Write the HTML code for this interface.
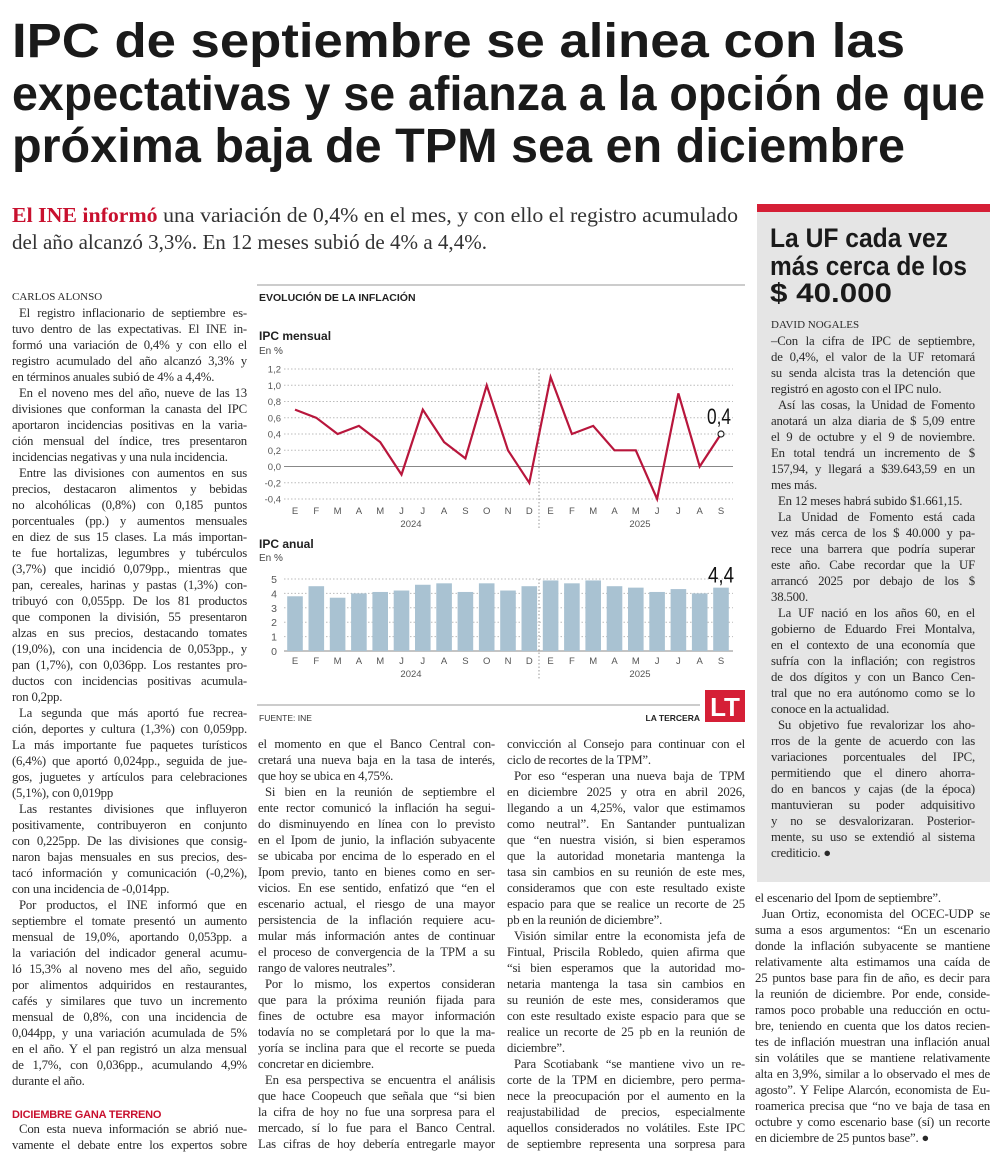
<!DOCTYPE html>
<html><head><meta charset="utf-8">
<style>
*{margin:0;padding:0;box-sizing:border-box}
body{width:1000px;height:1171px;background:#fff;position:relative;overflow:hidden;font-family:"Liberation Serif",serif;color:#2a2a2a}
.col{position:absolute;font-size:12.8px;line-height:16px;letter-spacing:-0.2px;z-index:3}
.col div{white-space:nowrap;text-align:justify;text-align-last:justify;height:16px}
.col div.e{text-align-last:left}
.col div.i{padding-left:7px}
.by{font-size:11px;text-transform:uppercase;letter-spacing:0}
svg{position:absolute;left:0;top:0}
.sans{font-family:"Liberation Sans",sans-serif}
</style></head><body>

<svg width="1000" height="900">
 <g font-family="Liberation Sans, sans-serif" font-weight="bold" font-size="48" fill="#1a1a1a">
  <text x="12" y="57" textLength="893" lengthAdjust="spacingAndGlyphs">IPC de septiembre se alinea con las</text>
  <text x="12" y="110" textLength="973" lengthAdjust="spacingAndGlyphs">expectativas y se afianza a la opción de que</text>
  <text x="12" y="162" textLength="893" lengthAdjust="spacingAndGlyphs">próxima baja de TPM sea en diciembre</text>
 </g>
 <g font-family="Liberation Serif, serif" font-size="21" fill="#333">
  <text x="12" y="222" textLength="726" lengthAdjust="spacingAndGlyphs"><tspan fill="#c8102e" font-weight="bold">El INE informó</tspan> una variación de 0,4% en el mes, y con ello el registro acumulado</text>
  <text x="12" y="249" textLength="475" lengthAdjust="spacingAndGlyphs">del año alcanzó 3,3%. En 12 meses subió de 4% a 4,4%.</text>
 </g>
 <rect x="757" y="204" width="233" height="8" fill="#d51f36"/>
 <rect x="757" y="212" width="233" height="670" fill="#e5e5e5"/>
 <g font-family="Liberation Sans, sans-serif" font-weight="bold" font-size="27" fill="#1a1a1a">
  <text x="770" y="247" textLength="178" lengthAdjust="spacingAndGlyphs">La UF cada vez</text>
  <text x="770" y="275" textLength="197" lengthAdjust="spacingAndGlyphs">más cerca de los</text>
  <text x="770" y="302" textLength="122" lengthAdjust="spacingAndGlyphs">$ 40.000</text>
 </g>
</svg>

<div class="col" style="left:12px;top:289px;width:235px">
<div class="e by">Carlos Alonso</div>
<div class="i">El registro inflacionario de septiembre es-</div>
<div>tuvo dentro de las expectativas. El INE in-</div>
<div>formó una variación de 0,4% y con ello el</div>
<div>registro acumulado del año alcanzó 3,3% y</div>
<div class="e">en términos anuales subió de 4% a 4,4%.</div>
<div class="i">En el noveno mes del año, nueve de las 13</div>
<div>divisiones que conforman la canasta del IPC</div>
<div>aportaron incidencias positivas en la varia-</div>
<div>ción mensual del índice, tres presentaron</div>
<div class="e">incidencias negativas y una nula incidencia.</div>
<div class="i">Entre las divisiones con aumentos en sus</div>
<div>precios, destacaron alimentos y bebidas</div>
<div>no alcohólicas (0,8%) con 0,185 puntos</div>
<div>porcentuales (pp.) y aumentos mensuales</div>
<div>en diez de sus 15 clases. La más importan-</div>
<div>te fue hortalizas, legumbres y tubérculos</div>
<div>(3,7%) que incidió 0,079pp., mientras que</div>
<div>pan, cereales, harinas y pastas (1,3%) con-</div>
<div>tribuyó con 0,055pp. De los 81 productos</div>
<div>que componen la división, 55 presentaron</div>
<div>alzas en sus precios, destacando tomates</div>
<div>(19,0%), con una incidencia de 0,053pp., y</div>
<div>pan (1,7%), con 0,036pp. Los restantes pro-</div>
<div>ductos con incidencias positivas acumula-</div>
<div class="e">ron 0,2pp.</div>
<div class="i">La segunda que más aportó fue recrea-</div>
<div>ción, deportes y cultura (1,3%) con 0,059pp.</div>
<div>La más importante fue paquetes turísticos</div>
<div>(6,4%) que aportó 0,024pp., seguida de jue-</div>
<div>gos, juguetes y artículos para celebraciones</div>
<div class="e">(5,1%), con 0,019pp</div>
<div class="i">Las restantes divisiones que influyeron</div>
<div>positivamente, contribuyeron en conjunto</div>
<div>con 0,225pp. De las divisiones que consig-</div>
<div>naron bajas mensuales en sus precios, des-</div>
<div>tacó información y comunicación (-0,2%),</div>
<div class="e">con una incidencia de -0,014pp.</div>
<div class="i">Por productos, el INE informó que en</div>
<div>septiembre el tomate presentó un aumento</div>
<div>mensual de 19,0%, aportando 0,053pp. a</div>
<div>la variación del indicador general acumu-</div>
<div>ló 15,3% al noveno mes del año, seguido</div>
<div>por alimentos adquiridos en restaurantes,</div>
<div>cafés y similares que tuvo un incremento</div>
<div>mensual de 0,8%, con una incidencia de</div>
<div>0,044pp, y una variación acumulada de 5%</div>
<div>en el año. Y el pan registró un alza mensual</div>
<div>de 1,7%, con 0,036pp., acumulando 4,9%</div>
<div class="e">durante el año.</div>
<div class="e"></div>
<div class="e sans" style="color:#c8102e;font-weight:bold;font-size:11px;height:16px;padding-top:2px">DICIEMBRE GANA TERRENO</div>
<div class="i">Con esta nueva información se abrió nue-</div>
<div>vamente el debate entre los expertos sobre</div>
</div>

<div class="col" style="left:258px;top:736px;width:237px">
<div>el momento en que el Banco Central con-</div>
<div>cretará una nueva baja en la tasa de interés,</div>
<div class="e">que hoy se ubica en 4,75%.</div>
<div class="i">Si bien en la reunión de septiembre el</div>
<div>ente rector comunicó la inflación ha segui-</div>
<div>do disminuyendo en línea con lo previsto</div>
<div>en el Ipom de junio, la inflación subyacente</div>
<div>se ubicaba por encima de lo esperado en el</div>
<div>Ipom previo, tanto en bienes como en ser-</div>
<div>vicios. En ese sentido, enfatizó que “en el</div>
<div>escenario actual, el riesgo de una mayor</div>
<div>persistencia de la inflación requiere acu-</div>
<div>mular más información antes de continuar</div>
<div>el proceso de convergencia de la TPM a su</div>
<div class="e">rango de valores neutrales”.</div>
<div class="i">Por lo mismo, los expertos consideran</div>
<div>que para la próxima reunión fijada para</div>
<div>fines de octubre esa mayor información</div>
<div>todavía no se completará por lo que la ma-</div>
<div>yoría se inclina para que el recorte se pueda</div>
<div class="e">concretar en diciembre.</div>
<div class="i">En esa perspectiva se encuentra el análisis</div>
<div>que hace Coopeuch que señala que “si bien</div>
<div>la cifra de hoy no fue una sorpresa para el</div>
<div>mercado, sí lo fue para el Banco Central.</div>
<div>Las cifras de hoy debería entregarle mayor</div>
</div>

<div class="col" style="left:507px;top:736px;width:238px">
<div>convicción al Consejo para continuar con el</div>
<div class="e">ciclo de recortes de la TPM”.</div>
<div class="i">Por eso “esperan una nueva baja de TPM</div>
<div>en diciembre 2025 y otra en abril 2026,</div>
<div>llegando a un 4,25%, valor que estimamos</div>
<div>como neutral”. En Santander puntualizan</div>
<div>que “en nuestra visión, si bien esperamos</div>
<div>que la autoridad monetaria mantenga la</div>
<div>tasa sin cambios en su reunión de este mes,</div>
<div>consideramos que con este resultado existe</div>
<div>espacio para que se realice un recorte de 25</div>
<div class="e">pb en la reunión de diciembre”.</div>
<div class="i">Visión similar entre la economista jefa de</div>
<div>Fintual, Priscila Robledo, quien afirma que</div>
<div>“si bien esperamos que la autoridad mo-</div>
<div>netaria mantenga la tasa sin cambios en</div>
<div>su reunión de este mes, consideramos que</div>
<div>con este resultado existe espacio para que se</div>
<div>realice un recorte de 25 pb en la reunión de</div>
<div class="e">diciembre”.</div>
<div class="i">Para Scotiabank “se mantiene vivo un re-</div>
<div>corte de la TPM en diciembre, pero perma-</div>
<div>nece la preocupación por el aumento en la</div>
<div>reajustabilidad de precios, especialmente</div>
<div>aquellos considerados no volátiles. Este IPC</div>
<div>de septiembre representa una sorpresa para</div>
</div>

<div class="col" style="left:755px;top:890px;width:235px">
<div class="e">el escenario del Ipom de septiembre”.</div>
<div class="i">Juan Ortiz, economista del OCEC-UDP se</div>
<div>suma a esos argumentos: “En un escenario</div>
<div>donde la inflación subyacente se mantiene</div>
<div>relativamente alta estimamos una caída de</div>
<div>25 puntos base para fin de año, es decir para</div>
<div>la reunión de diciembre. Por ende, conside-</div>
<div>ramos poco probable una reducción en octu-</div>
<div>bre, teniendo en cuenta que los datos recien-</div>
<div>tes de inflación muestran una inflación anual</div>
<div>sin volátiles que se mantiene relativamente</div>
<div>alta en 3,9%, similar a lo observado el mes de</div>
<div>agosto”. Y Felipe Alarcón, economista de Eu-</div>
<div>roamerica precisa que “no ve baja de tasa en</div>
<div>octubre y como escenario base (sí) un recorte</div>
<div class="e">en diciembre de 25 puntos base”. ●</div>
</div>

<div class="col" style="left:771px;top:317px;width:204px">
<div class="e by">David Nogales</div>
<div>–Con la cifra de IPC de septiembre,</div>
<div>de 0,4%, el valor de la UF retomará</div>
<div>su senda alcista tras la detención que</div>
<div class="e">registró en agosto con el IPC nulo.</div>
<div class="i">Así las cosas, la Unidad de Fomento</div>
<div>anotará un alza diaria de $ 5,09 entre</div>
<div>el 9 de octubre y el 9 de noviembre.</div>
<div>En total tendrá un incremento de $</div>
<div>157,94, y llegará a $39.643,59 en un</div>
<div class="e">mes más.</div>
<div class="e i">En 12 meses habrá subido $1.661,15.</div>
<div class="i">La Unidad de Fomento está cada</div>
<div>vez más cerca de los $ 40.000 y pa-</div>
<div>rece una barrera que podría superar</div>
<div>este año. Cabe recordar que la UF</div>
<div>arrancó 2025 por debajo de los $</div>
<div class="e">38.500.</div>
<div class="i">La UF nació en los años 60, en el</div>
<div>gobierno de Eduardo Frei Montalva,</div>
<div>en el contexto de una economía que</div>
<div>sufría con la inflación; con registros</div>
<div>de dos dígitos y con un Banco Cen-</div>
<div>tral que no era autónomo como se lo</div>
<div class="e">conoce en la actualidad.</div>
<div class="i">Su objetivo fue revalorizar los aho-</div>
<div>rros de la gente de acuerdo con las</div>
<div>variaciones porcentuales del IPC,</div>
<div>permitiendo que el dinero ahorra-</div>
<div>do en bancos y cajas (de la época)</div>
<div>mantuvieran su poder adquisitivo</div>
<div>y no se desvalorizaran. Posterior-</div>
<div>mente, su uso se extendió al sistema</div>
<div class="e">crediticio. ●</div>
</div>

<svg id="chart" width="1000" height="1171" font-family="Liberation Sans, sans-serif">
 <line x1="257" y1="285" x2="745" y2="285" stroke="#999" stroke-width="1"/>
 <text x="259" y="301" font-size="10.5" font-weight="bold" fill="#222">EVOLUCIÓN DE LA INFLACIÓN</text>
 <text x="259" y="340" font-size="12" font-weight="bold" fill="#222">IPC mensual</text>
 <text x="259" y="354" font-size="10" fill="#444">En %</text>
 <text x="259" y="548" font-size="12" font-weight="bold" fill="#222">IPC anual</text>
 <text x="259" y="561" font-size="10" fill="#444">En %</text>
 <g id="gLine"></g>
 <g id="gBar"></g>
 <line x1="257" y1="705" x2="700" y2="705" stroke="#999"/>
 <text x="259" y="721" font-size="8.5" fill="#333">FUENTE: INE</text>
 <text x="700" y="721" font-size="8.5" font-weight="bold" fill="#222" text-anchor="end">LA TERCERA</text>
 <rect x="705" y="690" width="40" height="32" fill="#d51f36"/>
 <text x="725" y="716" font-size="26" font-weight="bold" fill="#fff" text-anchor="middle">LT</text>
</svg>

<script>
const months = ["E","F","M","A","M","J","J","A","S","O","N","D","E","F","M","A","M","J","J","A","S"];
const monthly = [0.7,0.6,0.4,0.5,0.3,-0.1,0.7,0.3,0.1,1.0,0.2,-0.2,1.1,0.4,0.5,0.2,0.2,-0.4,0.9,0.0,0.4];
const annual = [3.8,4.5,3.7,4.0,4.1,4.2,4.6,4.7,4.1,4.7,4.2,4.5,4.9,4.7,4.9,4.5,4.4,4.1,4.3,4.0,4.4];
const monthlyTicks = [1.2,1.0,0.8,0.6,0.4,0.2,0.0,-0.2,-0.4];
const annualTicks = [5,4,3,2,1,0];
const years = ["2024","2025"];

const NS = "http://www.w3.org/2000/svg";
function mk(parent, tag, attrs, txt){
  const e = document.createElementNS(NS, tag);
  for (const k in attrs) e.setAttribute(k, attrs[k]);
  if (txt !== undefined) e.textContent = txt;
  parent.appendChild(e);
  return e;
}
const X0 = 295, X1 = 721;
const xs = i => X0 + i*(X1-X0)/(months.length-1);
const yL = v => 369 + (1.2 - v)*(130/1.6);
const yB = v => 651 - v*14.4;
const fmt = v => v.toFixed(1).replace(".", ",");

const gL = document.getElementById("gLine");
monthlyTicks.forEach(t => {
  const ln = mk(gL, "line", {x1:284, x2:733, y1:yL(t), y2:yL(t), stroke: t===0 ? "#888" : "#bbb", "stroke-width":1, "stroke-dasharray": t===0 ? "" : "1.5,2"});
  
  
  const tx = mk(gL, "text", {x:281, y:yL(t)+3.5, "font-size":9.5, fill:"#555", "text-anchor":"end"}, fmt(t));
  
  
});
const div1 = mk(gL, "line", {x1:539, x2:539, y1:369, y2:530, stroke:"#999", "stroke-dasharray":"1.5,2"});


months.forEach((m,i) => {
  const tx = mk(gL, "text", {x:xs(i), y:514, "font-size":9.5, fill:"#555", "text-anchor":"middle"}, m);
  
  
});
[[years[0],411],[years[1],640]].forEach(([y,x]) => {
  const tx = mk(gL, "text", {x:x, y:527, "font-size":9.5, fill:"#555", "text-anchor":"middle"}, y);
  
  
});
const pts = monthly.map((v,i) => xs(i).toFixed(1)+","+yL(v).toFixed(1)).join(" ");
const pl = mk(gL, "polyline", {points:pts, fill:"none", stroke:"#b8163c", "stroke-width":2.2, "stroke-linejoin":"miter"});


const li = monthly.length-1;
const dot = mk(gL, "circle", {cx:xs(li), cy:yL(monthly[li]), r:3, fill:"#fff", stroke:"#222", "stroke-width":1.2});


const lab = mk(gL, "text", {x:xs(li)-2, y:yL(monthly[li])-10, "font-size":22, fill:"#111", "text-anchor":"middle", textLength:24, lengthAdjust:"spacingAndGlyphs"}, fmt(monthly[li]));



const gB = document.getElementById("gBar");
annualTicks.forEach(t => {
  const ln = mk(gB, "line", {x1:284, x2:733, y1:yB(t), y2:yB(t), stroke: t===0 ? "#888" : "#bbb", "stroke-dasharray": t===0 ? "" : "1.5,2"});
  
  
  const tx = mk(gB, "text", {x:274, y:yB(t)+4, "font-size":10.5, fill:"#555", "text-anchor":"middle"}, String(t));
  
  
});
annual.forEach((v,i) => {
  const r = mk(gB, "rect", {x:xs(i)-7.8, y:yB(v), width:15.6, height:yB(0)-yB(v), fill:"#a9c2d2"});
  
  
});
const div2 = mk(gB, "line", {x1:539, x2:539, y1:579, y2:680, stroke:"#999", "stroke-dasharray":"1.5,2"});


months.forEach((m,i) => {
  const tx = mk(gB, "text", {x:xs(i), y:664, "font-size":9.5, fill:"#555", "text-anchor":"middle"}, m);
  
  
});
[[years[0],411],[years[1],640]].forEach(([y,x]) => {
  const tx = mk(gB, "text", {x:x, y:677, "font-size":9.5, fill:"#555", "text-anchor":"middle"}, y);
  
  
});
const al = annual.length-1;
const lab2 = mk(gB, "text", {x:xs(al), y:yB(annual[al])-5, "font-size":22, fill:"#111", "text-anchor":"middle", textLength:26, lengthAdjust:"spacingAndGlyphs"}, fmt(annual[al]));


</script>
</body></html>
